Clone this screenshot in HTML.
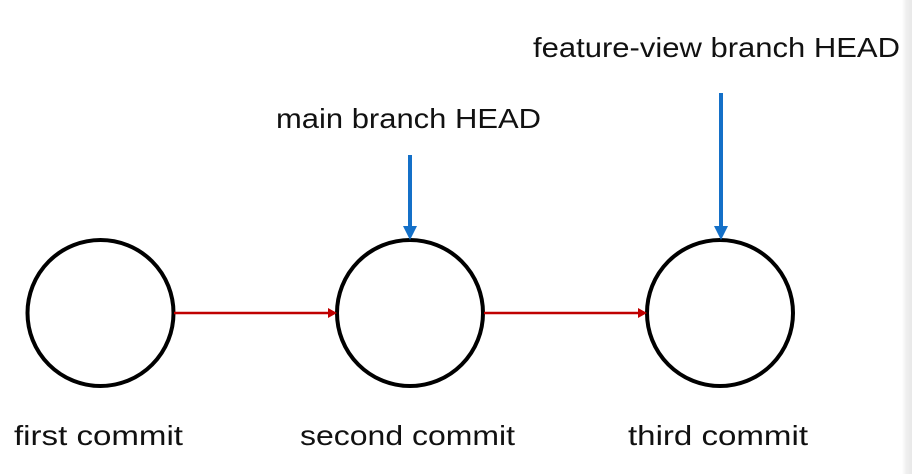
<!DOCTYPE html>
<html><head><style>
html,body{margin:0;padding:0;background:#fff;}
</style></head><body>
<svg width="912" height="474" xmlns="http://www.w3.org/2000/svg" style="display:block">
<defs>
<linearGradient id="g" x1="0" x2="1"><stop offset="0" stop-color="#fff"/><stop offset="0.4" stop-color="#f0f0f0"/><stop offset="1" stop-color="#e8e8e8"/></linearGradient>
</defs>
<rect x="902" y="0" width="10" height="474" fill="url(#g)"/>
<g font-family="Liberation Sans, sans-serif" font-size="28" fill="#111">
<text x="533" y="57" textLength="367" lengthAdjust="spacingAndGlyphs">feature-view branch HEAD</text>
<text x="276" y="128" textLength="265" lengthAdjust="spacingAndGlyphs">main branch HEAD</text>
<text x="14" y="445" textLength="169" lengthAdjust="spacingAndGlyphs">first commit</text>
<text x="300" y="445" textLength="215" lengthAdjust="spacingAndGlyphs">second commit</text>
<text x="628" y="445" textLength="180" lengthAdjust="spacingAndGlyphs">third commit</text>
</g>
<g fill="none" stroke="#000" stroke-width="4">
<circle cx="100.5" cy="313" r="73"/>
<circle cx="410" cy="313" r="73"/>
<circle cx="720" cy="313" r="73"/>
</g>
<g stroke="#c00000" stroke-width="2.5">
<line x1="174" y1="313" x2="330" y2="313"/>
<line x1="484" y1="313" x2="640" y2="313"/>
</g>
<g fill="#c00000">
<polygon points="337,313 328,308 328,318"/>
<polygon points="647,313 638,308 638,318"/>
</g>
<g stroke="#1470c8" stroke-width="4">
<line x1="410" y1="155" x2="410" y2="228"/>
<line x1="721" y1="93" x2="721" y2="228"/>
</g>
<g fill="#1470c8">
<polygon points="410,240 403,226 417,226"/>
<polygon points="721,240 714,226 728,226"/>
</g>
</svg>
</body></html>
